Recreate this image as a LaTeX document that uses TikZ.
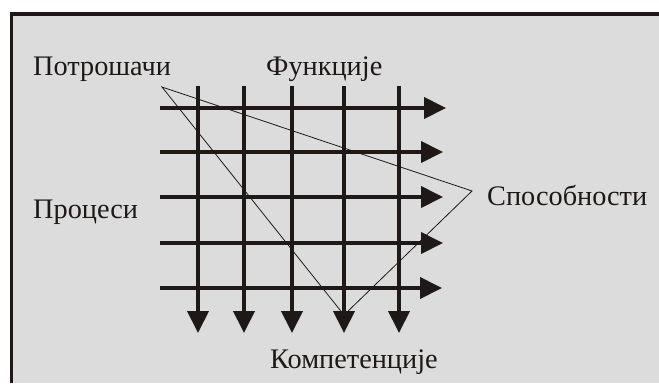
\documentclass[tikz,border=0pt]{standalone}
\usepackage{fontspec}
\setmainfont{Liberation Serif}
\usetikzlibrary{arrows.meta}
\definecolor{bg}{RGB}{220,220,220}
\definecolor{ink}{RGB}{30,25,22}
\begin{document}
\begin{tikzpicture}[x=1bp,y=-1bp,
  gridline/.style={line width=4bp, draw=ink, -{Triangle[length=22bp,width=21bp]}},
  thinline/.style={line width=0.8bp, draw=ink, line join=miter},
  label/.style={inner sep=0pt, anchor=base west, font=\fontsize{28.3bp}{31bp}\selectfont, text=ink}]
\useasboundingbox (0,0) rectangle (659,383);
\fill[white] (0,0) rectangle (659,383);
\fill[bg] (11.3,14) rectangle (659,383);
\draw[line width=3.5bp, ink] (11.3,383) -- (11.3,14) -- (659,14);
% horizontal rows
\coordinate (h1s) at (160,108); \coordinate (h1e) at (446,108);
\coordinate (h2s) at (160,152); \coordinate (h2e) at (443,152);
\coordinate (h3s) at (160,197); \coordinate (h3e) at (443,197);
\coordinate (h4s) at (160,243); \coordinate (h4e) at (443,243);
\coordinate (h5s) at (160,288); \coordinate (h5e) at (442,288);
% vertical columns
\coordinate (v1s) at (198,86); \coordinate (v1e) at (198,333);
\coordinate (v2s) at (244,86); \coordinate (v2e) at (244,333);
\coordinate (v3s) at (292,86); \coordinate (v3e) at (292,333);
\coordinate (v4s) at (344,86); \coordinate (v4e) at (344,333);
\coordinate (v5s) at (399,86); \coordinate (v5e) at (399,333);
\foreach \i in {1,...,5} {
  \draw[gridline] (h\i s) -- (h\i e);
}
\foreach \i in {1,...,5} {
  \draw[gridline] (v\i s) -- (v\i e);
}
% triangle
\coordinate (ta) at (162,87);
\coordinate (tb) at (472,191);
\coordinate (tc) at (344,315);
\draw[thinline] (ta) -- (tb) -- (tc) -- cycle;
% labels
\node[label] (potr) at (33,75) {Потрошачи};
\node[label] (funk) at (266,75) {Функције};
\node[label] (proc) at (33,218) {Процеси};
\node[label] (spos) at (487,205) {Способности};
\node[label] (komp) at (270,368) {Компетенције};
\end{tikzpicture}
\end{document}
